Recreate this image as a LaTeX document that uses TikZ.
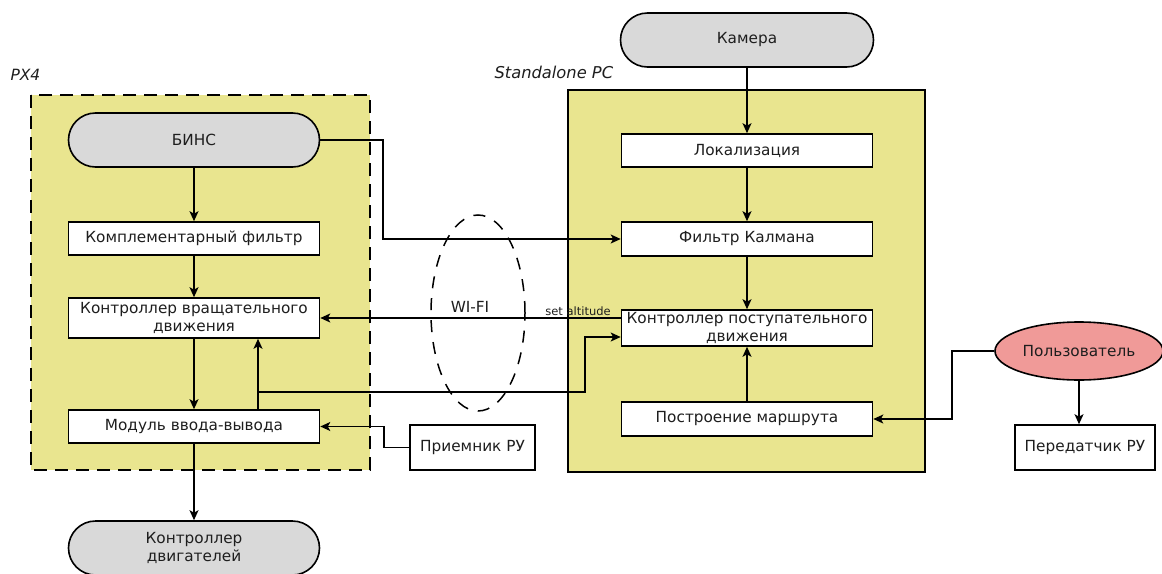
\documentclass[tikz,border=0pt]{standalone}
\usepackage{fontspec}
\setmainfont{DejaVu Sans}
\usetikzlibrary{shapes.misc,shapes.geometric,arrows.meta,calc}
\definecolor{ylw}{RGB}{233,229,143}
\definecolor{gry}{RGB}{217,217,217}
\definecolor{pnk}{RGB}{240,154,152}
\definecolor{txt}{RGB}{30,30,30}
\begin{document}
\begin{tikzpicture}[x=1pt,y=1pt,
  every node/.style={text=txt,font=\fontsize{15.3}{17.5}\selectfont},
  box/.style={draw=black,line width=1.6pt,fill=white,rectangle,inner sep=0pt,align=center},
  stad/.style={draw=black,line width=1.6pt,fill=gry,rounded rectangle,inner sep=0pt,align=center,minimum width=251,minimum height=54},
  arr/.style={line width=1.6pt,-{Stealth[length=10pt,width=9pt,inset=2.5pt]}},
  lbl/.style={font=\itshape\fontsize{15.5}{18}\selectfont,anchor=west}
]
\useasboundingbox (0,0) rectangle (1162,-573);
% containers
\fill[ylw] (31,-95) rectangle (370,-470);
\draw[line width=2pt,dash pattern=on 13pt off 8pt] (31,-95) rectangle (370,-470);
\draw[line width=1.6pt,fill=ylw] (568,-90) rectangle (925,-472);
\node[lbl] (px4) at (7,-75) {PX4};
\node[lbl,font=\itshape\fontsize{16.3}{19}\selectfont] (spc) at (491,-72) {Standalone PC};
% WI-FI ellipse
\draw[line width=1.5pt,dash pattern=on 12pt off 10pt] (478,-313) ellipse [x radius=47,y radius=98];
% left column
\node[stad] (bins) at (194,-140) {БИНС};
\node[box,minimum width=251,minimum height=33] (kompl) at (194,-238.5) {Комплементарный фильтр};
\node[box,minimum width=251,minimum height=40] (kvr) at (194,-318) {Контроллер вращательного\\движения};
\node[box,minimum width=251,minimum height=33] (mod) at (194,-426.5) {Модуль ввода-вывода};
\node[stad] (kdv) at (194,-548) {Контроллер\\двигателей};
\node[box,minimum width=125,minimum height=45] (prm) at (472.5,-447.5) {Приемник РУ};
% right column
\node[stad,minimum width=253] (kam) at (747,-40) {Камера};
\node[box,minimum width=251,minimum height=33] (lok) at (747,-150.5) {Локализация};
\node[box,minimum width=251,minimum height=34] (kal) at (747,-239) {Фильтр Калмана};
\node[box,minimum width=251,minimum height=36] (kpd) at (747,-328) {Контроллер поступательного\\движения};
\node[box,minimum width=251,minimum height=34] (pm) at (747,-419) {Построение маршрута};
\node[ellipse,draw=black,line width=1.6pt,fill=pnk,minimum width=168,minimum height=58,inner sep=0pt] (usr) at (1079,-351) {Пользователь};
\node[box,minimum width=140,minimum height=45] (per) at (1085,-447.5) {Передатчик РУ};
% labels
\node (wifi) at (470,-307) {WI-FI};
\node[font=\fontsize{11.5}{13}\selectfont] (alt) at (578,-311) {set altitude};
% connectors left
\draw[arr] (bins) -- (kompl);
\draw[arr] (kompl) -- (kvr);
\draw[arr] (kvr) -- (mod);
\draw[arr] (mod) -- (kdv);
\coordinate (br) at (258,-392);
\draw[arr] (br |- mod.north) -- (br |- kvr.south);
\draw[arr] (br) -- (585,-392) |- ($(kpd.west)+(0,-9)$);
\draw[arr] (prm.west) -- ++(-25,0) |- (mod.east);
\draw[arr] (bins.east) -- (383,-140) |- (kal.west);
\draw[arr] (kvr.east -| kpd.west) -- (kvr.east);
% connectors right
\draw[arr] (kam) -- (lok);
\draw[arr] (lok) -- (kal);
\draw[arr] (kal) -- (kpd);
\draw[arr] (pm) -- (kpd);
\draw[arr] (usr.west) -- ++(-42,0) |- (pm.east);
\draw[arr] (usr.south) -- (usr.south |- per.north);
\end{tikzpicture}
\end{document}
